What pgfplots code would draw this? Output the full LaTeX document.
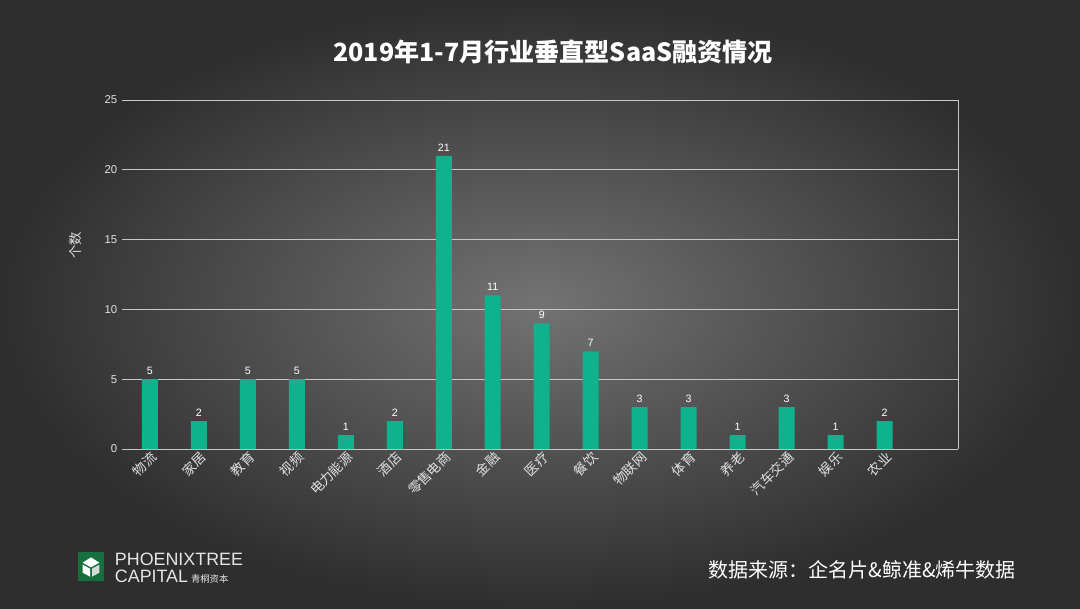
\documentclass[border=0pt]{standalone}
\usepackage{fontspec}
\usepackage{pgfplots}
\pgfplotsset{compat=1.18}
\setmainfont{Noto Sans CJK SC}
\newfontfamily\cjk{Noto Sans CJK SC}
\newfontfamily\latinfont{Liberation Sans}
\definecolor{barteal}{RGB}{16,178,142}
\definecolor{gridgray}{RGB}{200,200,200}
\definecolor{txtgray}{RGB}{225,225,225}
\definecolor{logogreen}{RGB}{22,112,62}

\begin{document}
\begin{tikzpicture}
% background, 1080x608 px at 0.75pt per px
\shade[inner color=black!55, outer color=black!82] (0,0) rectangle (810pt,456pt);
\useasboundingbox (0,0) rectangle (810pt,456pt);

\begin{axis}[
  at={(91.5pt,119.25pt)}, anchor=south west,
  scale only axis, width=627pt, height=261.75pt,
  ybar, bar width=12pt,
  xmin=-0.57, xmax=16.5, ymin=0, ymax=25,
  ytick={0,5,...,25},
  xtick={0,...,15},
  xticklabels={物流,家居,教育,视频,电力能源,酒店,零售电商,金融,医疗,餐饮,物联网,体育,养老,汽车交通,娱乐,农业},
  xticklabel style={rotate=45, anchor=north east, font=\fontsize{10}{11}\selectfont, text=txtgray, inner sep=0.5pt},
  yticklabel style={font=\fontsize{8.5}{10}\selectfont\latinfont, text=txtgray},
  /pgf/number format/assume math mode=true,
  major tick length=0pt,
  ymajorgrids, grid style={gridgray, line width=0.5pt},
  axis line style={gridgray, line width=0.6pt},
  axis x line*=bottom, axis y line*=left,
  y axis line style={draw=none},
  nodes near coords, nodes near coords style={text=white, font=\fontsize{8}{9}\selectfont\latinfont},
  clip=false,
]
\addplot[fill=barteal, draw=none] coordinates {
  (0,5) (1,2) (2,5) (3,5) (4,1) (5,2) (6,21) (7,11)
  (8,9) (9,7) (10,3) (11,3) (12,1) (13,3) (14,1) (15,2)};
\draw[gridgray, line width=0.5pt] (rel axis cs:1,0) -- (rel axis cs:1,1);
\end{axis}

\node[rotate=90, text=txtgray, font=\fontsize{10}{11}\selectfont] at (56.25pt,272pt) {个数};
\node[text=white, font=\fontsize{18.8}{22}\selectfont\bfseries] at (414.75pt,417pt) {2019年1-7月行业垂直型SaaS融资情况};
\node[text=white, font=\fontsize{15}{18}\selectfont] at (646.5pt,28.5pt) {数据来源：企名片\&鲸准\&烯牛数据};

% logo
\fill[logogreen] (58.5pt,20.25pt) rectangle (78pt,42pt);
\fill[white] (62pt,34pt) -- (68.25pt,38pt) -- (74.5pt,34pt) -- (68.25pt,30.5pt) -- cycle;
\fill[white] (62pt,32.5pt) -- (67.5pt,29.5pt) -- (67.5pt,23.5pt) -- (62pt,26.5pt) -- cycle;
\fill[white!85!black] (69pt,29.5pt) -- (74.5pt,32.5pt) -- (74.5pt,26.5pt) -- (69pt,23.5pt) -- cycle;
\node[anchor=west, inner sep=0pt, text=white!90!black, font=\fontsize{13.4}{15}\selectfont\latinfont] at (86pt,36.5pt) {PHOENIXTREE};
\node[anchor=west, inner sep=0pt, text=white!90!black, font=\fontsize{13.4}{15}\selectfont\latinfont] at (86pt,23.5pt) {CAPITAL\,{\cjk\fontsize{7}{8}\selectfont 青桐资本}};
\end{tikzpicture}
\end{document}
